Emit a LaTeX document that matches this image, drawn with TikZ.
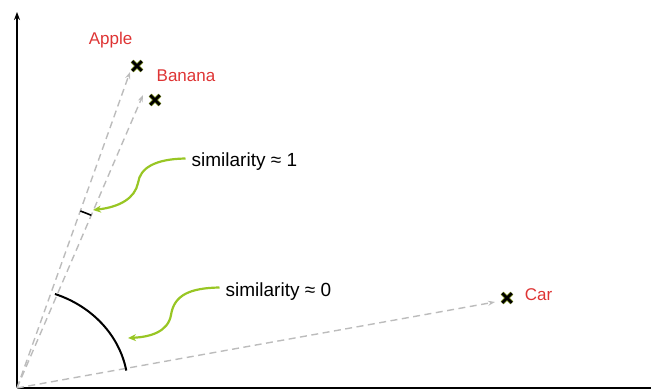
\documentclass[tikz,border=0pt]{standalone}
\usepackage{fontspec}
\setmainfont{Liberation Sans}
\usetikzlibrary{arrows.meta,shapes.misc}
\definecolor{lblred}{RGB}{222,52,52}
\definecolor{leafgreen}{RGB}{152,198,36}
\definecolor{xedge}{RGB}{120,140,20}
\definecolor{vecgray}{RGB}{188,188,188}
\begin{document}
\begin{tikzpicture}[x=1pt,y=1pt,
    vec/.style={vecgray, line width=1.4pt, dash pattern=on 7pt off 4.5pt, -{Stealth[length=7pt,width=5pt]}},
    xmark/.style={cross out, draw=xedge, double=black, double distance=2.6pt, line width=0.7pt, minimum size=9pt, inner sep=0pt},
    lbl/.style={text=lblred, font=\fontsize{17}{20}\selectfont},
    note/.style={font=\fontsize{19}{22}\selectfont, anchor=west, inner sep=6pt},
    pointer/.style={leafgreen, line width=2.2pt, -{Stealth[length=8pt,width=7pt]}}]
  \useasboundingbox (0,0) rectangle (651,390);
  % axes
  \coordinate (O) at (17,2);
  \coordinate (ytop) at (17,378);
  \coordinate (xend) at (651,2);
  \draw[line width=1.6pt, -{Stealth[length=8pt,width=6pt]}] (O) -- (ytop);
  \draw[line width=2pt] (O) -- (xend);
  % word vectors
  \node[xmark] (apple) at (137,324) {};
  \node[xmark] (banana) at (155,290) {};
  \node[xmark] (car) at (507,92) {};
  \node[lbl] (applelbl) at (110.5,350) {Apple};
  \node[lbl] (bananalbl) at (186,314) {Banana};
  \node[lbl] (carlbl) at (538.5,95) {Car};
  \coordinate (aTip) at (130,318);
  \coordinate (bTip) at (143,295);
  \coordinate (cTip) at (495,88);
  \draw[vec] (O) -- (aTip);
  \draw[vec] (O) -- (bTip);
  \draw[vec] (O) -- (cTip);
  % angles
  \draw[line width=2pt] (O) ++(109.3,17.4) arc[start angle=10, end angle=70, x radius=111, y radius=100];
  \draw[line width=1.6pt] (O) ++(66.7:188) arc[start angle=66.7, end angle=70.3, radius=188];
  % pointers
  \node[note] (s1) at (185.5,228.5) {similarity ≈ 1};
  \node[note] (s0) at (219.5,98.5) {similarity ≈ 0};
  \coordinate (tip1) at (93,180);
  \coordinate (tip0) at (128,52);
  \draw[pointer] ([yshift=3pt]s1.west) .. controls (155,231) and (140,222) .. (138,207)
    .. controls (135,192) and (120,183) .. (tip1);
  \draw[pointer] ([yshift=4pt]s0.west) .. controls (190,102) and (174,95) .. (171,75)
    .. controls (168,58) and (150,53) .. (tip0);
\end{tikzpicture}
\end{document}
